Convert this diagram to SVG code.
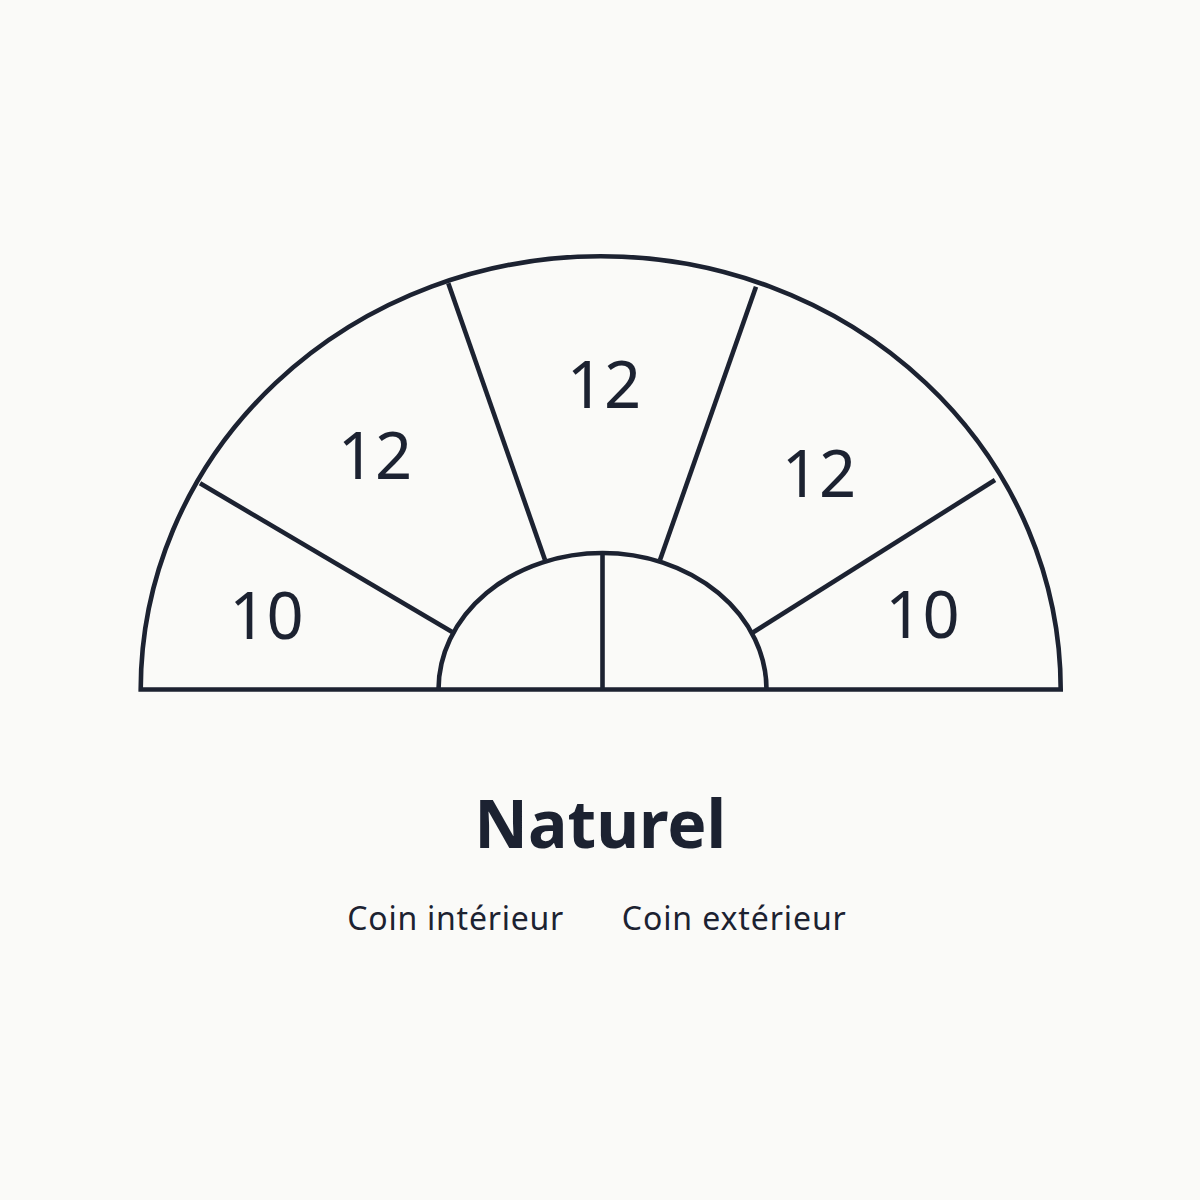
<svg xmlns="http://www.w3.org/2000/svg" width="1200" height="1200" viewBox="0 0 1200 1200">
<style>
.ln{fill:none;stroke:#1c2231;stroke-width:4.6;stroke-linecap:butt;stroke-linejoin:miter}
.num{font-family:"Noto Sans","Liberation Sans",sans-serif;font-size:65px;fill:#1c2231;text-anchor:middle}
.title{font-family:"Noto Sans","Liberation Sans",sans-serif;font-size:66px;font-weight:700;fill:#1c2231;text-anchor:middle}
.sub{font-family:"Noto Sans","Liberation Sans",sans-serif;font-size:32px;fill:#1c2231;text-anchor:middle}
</style>
<rect x="0" y="0" width="1200" height="1200" fill="#fafaf8"/>
<g id="shape">
<path id="outer" class="ln" d="M140.7,689.5 A460,433.5 0 0 1 1060.7,689.5 Z"/>
<path id="inner" class="ln" d="M438.5,689.5 A164,136.5 0 0 1 766.5,689.5"/>
</g>
<g id="connectors">
<line class="ln" x1="200" y1="483.3" x2="454.3" y2="633.3"/>
<line class="ln" x1="448.3" y1="283.3" x2="545" y2="560"/>
<line class="ln" x1="756" y1="286.7" x2="660" y2="560"/>
<line class="ln" x1="995" y1="480" x2="751.7" y2="633.3"/>
<line class="ln" x1="602.5" y1="553" x2="602.5" y2="689.5"/>
</g>
<g id="seg-left-10"><text class="num" x="266.5" y="639.3">10</text></g>
<g id="seg-left-12"><text class="num" x="375" y="479.3">12</text></g>
<g id="seg-top-12"><text class="num" x="604" y="408.3">12</text></g>
<g id="seg-right-12"><text class="num" x="819" y="496.7">12</text></g>
<g id="seg-right-10"><text class="num" x="922.5" y="638.3">10</text></g>
<g id="labels">
<text class="title" x="600.3" y="848.3">Naturel</text>
<text class="sub" x="455.3" y="930" textLength="216" lengthAdjust="spacing">Coin intérieur</text>
<text class="sub" x="733.8" y="930" textLength="224" lengthAdjust="spacing">Coin extérieur</text>
</g>
</svg>
